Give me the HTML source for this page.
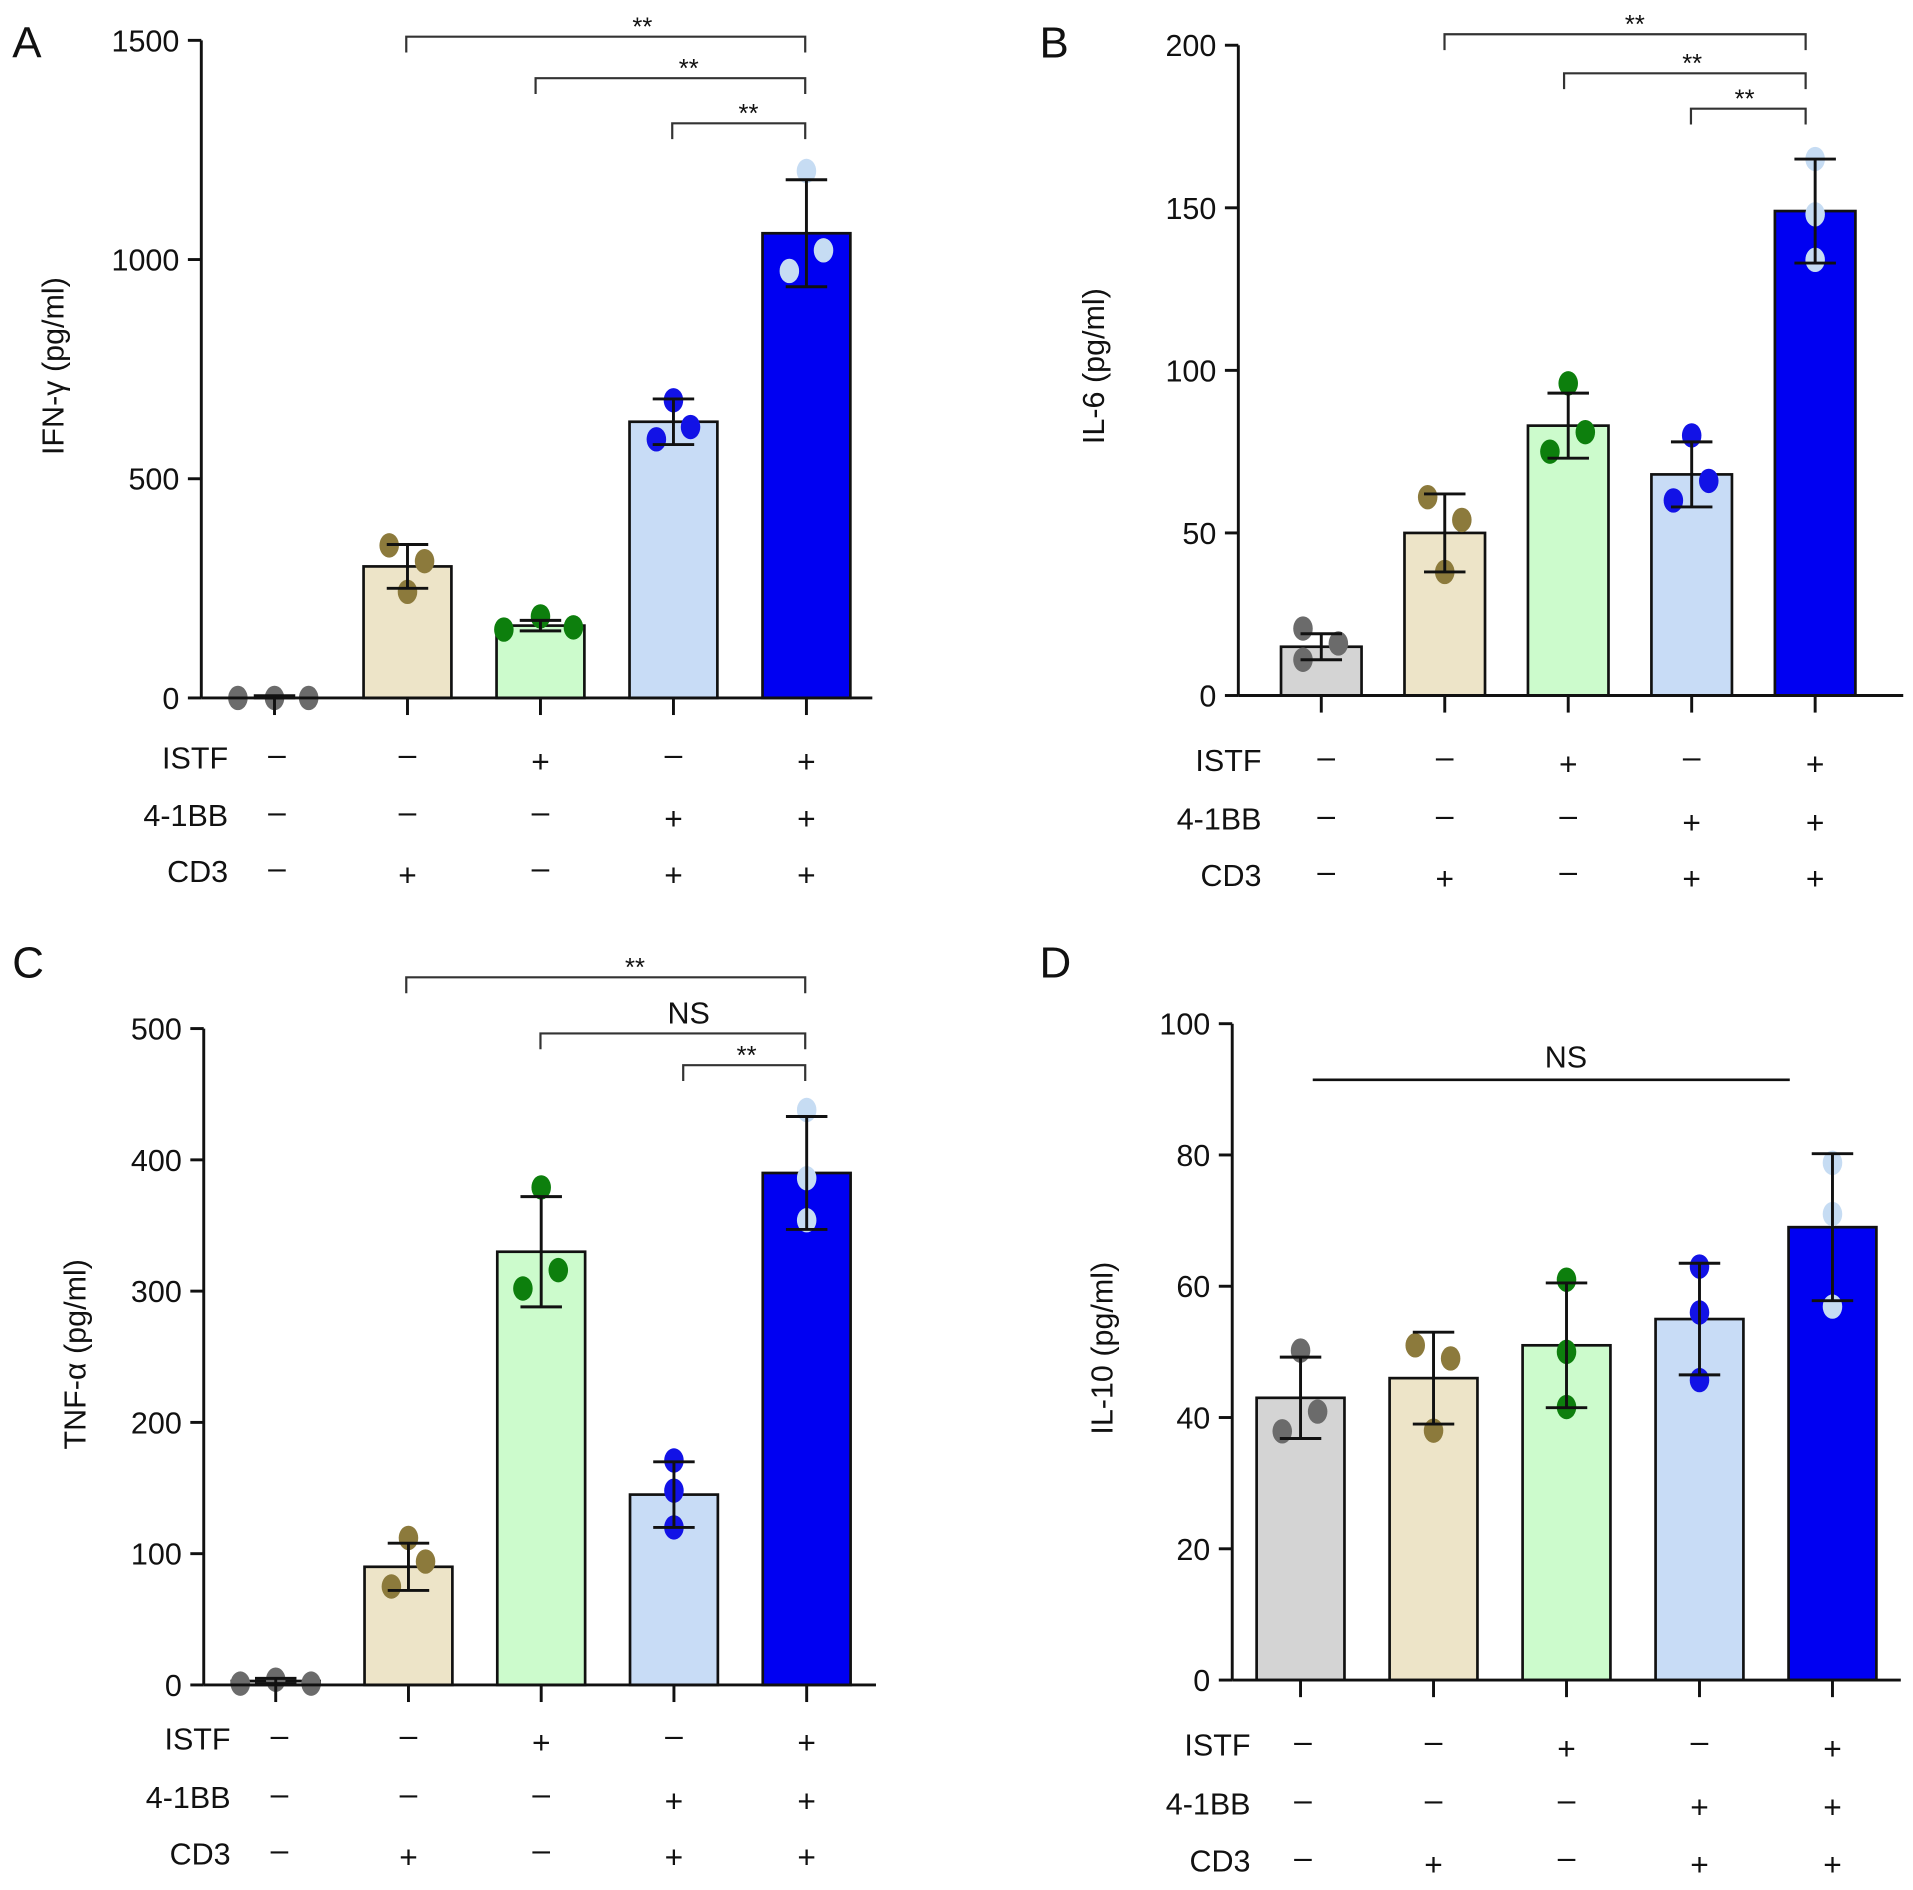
<!DOCTYPE html>
<html><head><meta charset="utf-8"><style>
html,body{margin:0;padding:0;background:#fff;}
svg{display:block;font-family:"Liberation Sans",Arial,sans-serif;}
</style></head><body>
<svg id="fig" width="1913" height="1890" viewBox="0 0 1568 1549" xmlns="http://www.w3.org/2000/svg"></svg>
<script>
// ---- Data ----
const groups = ['g1','g2','g3','g4','g5'];
const istfSigns = ['–','–','+','–','+'];
const bbSigns = ['–','–','–','+','+'];
const cd3Signs = ['–','+','–','+','+'];
const ifnMeans = [0, 300, 165, 630, 1060];
const ifnSD = [5, 50, 12, 52, 122];
const ifnPoints = [[0,0,0],[348,312,242],[156,186,161],[679,590,618],[1202,974,1021]];
const ifnTicks = [0,500,1000,1500];
const il6Means = [15, 50, 83, 68, 149];
const il6SD = [4, 12, 10, 10, 16];
const il6Points = [[20.6,11,16],[61,54,38],[96,81,75],[80,66,60],[165,148,134]];
const il6Ticks = [0,50,100,150,200];
const tnfMeans = [3, 90, 330, 145, 390];
const tnfSD = [2, 18, 42, 25, 43];
const tnfPoints = [[1,4,1],[112,94,75],[379,316,302],[171,148,120],[438,386,354]];
const tnfTicks = [0,100,200,300,400,500];
const il10Means = [43, 46, 51, 55, 69];
const il10SD = [6.2, 7, 9.5, 8.5, 11.2];
const il10Points = [[50.2,40.9,37.9],[51,49,38],[61,50,41.6],[63,56,45.7],[78.8,71,56.9]];
const il10Ticks = [0,20,40,60,80,100];

const fills = ['#d4d4d4','#ede4c8','#ccfbcc','#c8dcf6','#0000f2'];
const dotCols = ['#6b6b6b','#8c7a3c','#0d7f0d','#1212e6','#c6dcf3'];

const svg = document.getElementById('fig');
const NS = 'http://www.w3.org/2000/svg';
function mk(tag, attrs, parent){
  const e = document.createElementNS(NS, tag);
  for (const k in attrs) e.setAttribute(k, attrs[k]);
  (parent||svg).appendChild(e); return e;
}
function txt(x,y,s,size,anchor,parent){
  const t = mk('text',{x:x,y:y,'font-size':size,'text-anchor':anchor||'middle',fill:'#111'},parent);
  t.textContent = s; return t;
}

function panel(cfg){
  const g = mk('g',{});
  
  
  const yS = v => cfg.y0 - v * (cfg.y0 - cfg.yTop) / cfg.max;
  const xS = i => cfg.x1 + i * cfg.step;
  const L = txt(cfg.letterX, cfg.letterY, cfg.letter, 36, 'start', g);
  
  
  cfg.means.forEach((m,i)=>{
    const r = mk('rect',{x:xS(i)-cfg.bw/2,y:yS(m),width:cfg.bw,height:cfg.y0-yS(m),fill:fills[i],stroke:'#111','stroke-width':2.2},g);
    
    
  });
  cfg.points.forEach((ps,i)=>{
    ps.forEach((v,j)=>{
      const dx = cfg.dx[i][j];
      const e = mk('ellipse',{cx:xS(i)+dx,cy:yS(v),rx:8,ry:10,fill:dotCols[i]},g);
      
      
    });
  });
  cfg.means.forEach((m,i)=>{
    const x = xS(i), hi = yS(m+cfg.sd[i]), lo = yS(Math.max(0,m-cfg.sd[i]));
    const eg = mk('g',{stroke:'#111','stroke-width':2.4},g);
    
    
    mk('line',{x1:x,y1:hi,x2:x,y2:lo},eg);
    mk('line',{x1:x-17,y1:hi,x2:x+17,y2:hi},eg);
    mk('line',{x1:x-17,y1:lo,x2:x+17,y2:lo},eg);
  });
  const ax = mk('g',{stroke:'#111','stroke-width':2.4},g);
  
  
  mk('line',{x1:cfg.ax,y1:cfg.y0,x2:cfg.ax,y2:yS(cfg.ticks[cfg.ticks.length-1])},ax);
  mk('line',{x1:cfg.ax,y1:cfg.y0,x2:cfg.axEnd,y2:cfg.y0},ax);
  cfg.ticks.forEach(t=>{
    mk('line',{x1:cfg.ax-11,y1:yS(t),x2:cfg.ax,y2:yS(t)},ax);
    const tl = txt(cfg.ax-18, yS(t)+9, String(t), 25, 'end', g);
    
    
  });
  groups.forEach((_,i)=> mk('line',{x1:xS(i),y1:cfg.y0,x2:xS(i),y2:cfg.y0+14},ax));
  const yt = txt(0,0,cfg.ytitle,25,'middle',g);
  yt.setAttribute('transform','translate('+cfg.ytx+','+cfg.yty+') rotate(-90)');
  
  
  const rows = [['ISTF',istfSigns],['4-1BB',bbSigns],['CD3',cd3Signs]];
  rows.forEach((r,k)=>{
    const y = cfg.rowY[k];
    const lab = txt(cfg.rowLabelX, y, r[0], 25, 'end', g);
    
    
    r[1].forEach((s,i)=>{
      const x = i===0 ? cfg.firstSignX : xS(i);
      const st = txt(x, y+(s==='+'?3:-3), s, 26, 'middle', g);
      
      
    });
  });
  (cfg.brackets||[]).forEach(b=>{
    const bg = mk('g',{},g);
    
    
    mk('path',{d:'M'+b[0]+' '+(b[2]+13)+' V'+b[2]+' H'+b[1]+' V'+(b[2]+13),fill:'none',stroke:'#333','stroke-width':1.8},bg);
    txt((b[0]+b[1])/2 + (b[4]||0), b[3]==='NS'? b[2]-8 : b[2]-1, b[3], b[3]==='NS'?25:21, 'middle', bg);
  });
  if (cfg.nsLine){
    const n = cfg.nsLine;
    const ng = mk('g',{},g);
    
    
    mk('line',{x1:n[0],y1:n[2],x2:n[1],y2:n[2],stroke:'#111','stroke-width':2.2},ng);
    txt((n[0]+n[1])/2+12, n[2]-10, 'NS', 25, 'middle', ng);
  }
}

panel({name:'panel-a-ifn-gamma',letter:'A',letterX:10,letterY:47,means:ifnMeans,sd:ifnSD,points:ifnPoints,ticks:ifnTicks,max:1500,
  y0:572,yTop:33,ax:165,axEnd:715,x1:225,step:109,bw:72,ytitle:'IFN-γ (pg/ml)',ytx:52,yty:300,
  dx:[[-30,0,28],[-15,14,0],[-30,0,27],[0,-14,14],[0,-14,14]],
  rowY:[630,677,723],rowLabelX:187,firstSignX:227,
  brackets:[[333,660,30,'**',30],[439,660,64,'**',15],[551,660,101,'**',8]]});
panel({name:'panel-b-il6',letter:'B',letterX:852,letterY:47,means:il6Means,sd:il6SD,points:il6Points,ticks:il6Ticks,max:200,
  y0:570,yTop:37,ax:1015,axEnd:1560,x1:1083,step:101.2,bw:66,ytitle:'IL-6 (pg/ml)',ytx:905,yty:300,
  dx:[[-15,-15,14],[-14,14,0],[0,14,-15],[0,14,-15],[0,0,0]],
  rowY:[632,680,726],rowLabelX:1034,firstSignX:1087,
  brackets:[[1184,1480,28,'**',8],[1282,1480,60,'**',6],[1386,1480,89,'**',-3]]});
panel({name:'panel-c-tnf-alpha',letter:'C',letterX:10,letterY:801,means:tnfMeans,sd:tnfSD,points:tnfPoints,ticks:tnfTicks,max:500,
  y0:1381,yTop:843,ax:167,axEnd:718,x1:226,step:108.8,bw:72,ytitle:'TNF-α (pg/ml)',ytx:70,yty:1110,
  dx:[[-29,0,29],[0,14,-14],[0,14,-15],[0,0,0],[0,0,0]],
  rowY:[1434,1482,1528],rowLabelX:189,firstSignX:229,
  brackets:[[333,660,801,'**',24],[443,660,847,'NS',13],[560,660,873,'**',2]]});
panel({name:'panel-d-il10',letter:'D',letterX:852,letterY:801,means:il10Means,sd:il10SD,points:il10Points,ticks:il10Ticks,max:100,
  y0:1377,yTop:839,ax:1010,axEnd:1558,x1:1066,step:109,bw:72,ytitle:'IL-10 (pg/ml)',ytx:912,yty:1105,
  dx:[[0,14,-15],[-15,14,0],[0,0,0],[0,0,0],[0,0,0]],
  rowY:[1439,1487,1534],rowLabelX:1025,firstSignX:1068,
  nsLine:[1076,1467,885]});
</script>
</body></html>
